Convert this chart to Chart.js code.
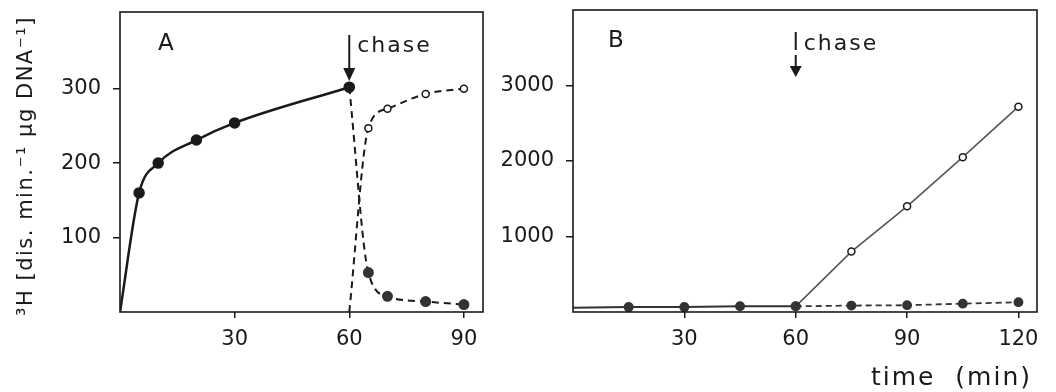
<!DOCTYPE html>
<html>
<head>
<meta charset="utf-8">
<script src="https://cdn.jsdelivr.net/npm/chart.js@4.4.1/dist/chart.umd.min.js"></script>
<style>
  body { margin: 0; background: #fff; width: 1056px; height: 392px; position: relative; overflow: hidden; }
  #chartA { position: absolute; left: 0; top: 0; }
  #chartB { position: absolute; left: 490px; top: 0; }
</style>
</head>
<body>
<canvas id="chartA" width="490" height="392"></canvas>
<canvas id="chartB" width="566" height="392"></canvas>
<script>
// Panel A - pulse then chase (time in min)
const pulseA_x = [0, 5, 10, 20, 30, 60];
const pulseA_y = [0, 160, 200, 231, 254, 302];
const chaseA_x = [60, 65, 70, 80, 90];
const chaseA_filled = [302, 53, 21, 14, 10];
const chaseA_open = [0, 247, 273, 293, 300];
const ticksA_x = [30, 60, 90];
const ticksA_y = [100, 200, 300];

// Panel B
const pulseB_x = [0, 15, 30, 45, 60];
const pulseB_y = [55, 65, 65, 75, 75];
const chaseB_x = [60, 75, 90, 105, 120];
const chaseB_filled = [75, 85, 90, 110, 130];
const chaseB_open = [75, 800, 1400, 2050, 2720];
const ticksB_x = [30, 60, 90, 120];
const ticksB_y = [1000, 2000, 3000];

const chaseTime = 60;
const INK = '#1a1a1a';
const FONT = '"DejaVu Sans", sans-serif';

const pts = (xs, ys) => xs.map((x, i) => ({ x: x, y: ys[i] }));

const decor = (o) => ({
    id: 'decor',
    afterDraw(chart) {
        const { ctx, chartArea: a, scales } = chart;
        ctx.save();
        ctx.strokeStyle = INK;
        ctx.lineWidth = 1.6;
        ctx.strokeRect(a.left, a.top, a.right - a.left, a.bottom - a.top);

        ctx.fillStyle = INK;
        ctx.textBaseline = 'middle';
        ctx.font = '23px ' + FONT;
        ctx.fillText(o.letter, o.letterX, o.letterY);

        // chase marker
        const cx = scales.x.getPixelForValue(chaseTime);
        ctx.lineWidth = 2;
        ctx.beginPath();
        ctx.moveTo(cx, o.barTop); ctx.lineTo(cx, o.barBottom);
        if (o.shaftTop) { ctx.moveTo(cx, o.shaftTop); ctx.lineTo(cx, o.headTop); }
        ctx.stroke();
        ctx.beginPath();
        ctx.moveTo(cx - 6, o.headTop);
        ctx.lineTo(cx + 6, o.headTop);
        ctx.lineTo(cx, o.headTip);
        ctx.closePath();
        ctx.fill();

        ctx.font = '22px ' + FONT;
        ctx.letterSpacing = '2px';
        ctx.textAlign = 'left';
        ctx.fillText('chase', cx + 8, o.chaseY);

        if (o.yTitle) {
            ctx.save();
            ctx.translate(27, 166);
            ctx.rotate(-Math.PI / 2);
            ctx.textAlign = 'center';
            ctx.font = '21px ' + FONT;
            ctx.letterSpacing = '1.5px';
            ctx.fillText(o.yTitle, 0, 0);
            ctx.restore();
        }
        if (o.xTitle) {
            ctx.font = '25px ' + FONT;
            ctx.letterSpacing = '2px';
            ctx.textAlign = 'right';
            ctx.fillText(o.xTitle, chart.width - 24, 378);
        }
        ctx.restore();
    }
});

const scaleX = (max, ticks, h) => ({
    type: 'linear', min: 0, max: max,
    afterBuildTicks: (s) => { s.ticks = ticks.map(v => ({ value: v })); },
    afterFit: (s) => { s.height = h; s.paddingLeft = 0; s.paddingRight = 0; },
    grid: { drawOnChartArea: false, drawTicks: true, tickLength: 6, color: INK, lineWidth: 1.5 },
    border: { display: false },
    ticks: { color: INK, font: { family: FONT, size: 21 }, padding: 9, maxRotation: 0, callback: v => String(v) }
});

const scaleY = (max, ticks, w) => ({
    type: 'linear', min: 0, max: max,
    afterBuildTicks: (s) => { s.ticks = ticks.map(v => ({ value: v })); },
    afterFit: (s) => { s.width = w; s.paddingTop = 0; s.paddingBottom = 0; },
    grid: { drawOnChartArea: false, drawTicks: true, tickLength: 7, color: INK, lineWidth: 1.5 },
    border: { display: false },
    ticks: { color: INK, font: { family: FONT, size: 21 }, padding: 12, callback: v => String(v) }
});

const baseOptions = {
    responsive: false,
    devicePixelRatio: 1,
    animation: false,
    plugins: { legend: { display: false }, tooltip: { enabled: false } }
};

// Panel A
new Chart(document.getElementById('chartA').getContext('2d'), {
    type: 'line',
    data: {
        datasets: [
            {
                data: pts(pulseA_x, pulseA_y),
                borderColor: INK, borderWidth: 2.5,
                cubicInterpolationMode: 'monotone',
                pointRadius: pulseA_x.map(x => x === 0 ? 0 : 4.5),
                pointBackgroundColor: INK, pointBorderColor: INK
            },
            {
                data: pts(chaseA_x, chaseA_filled),
                borderColor: INK, borderWidth: 2, borderDash: [7, 5],
                cubicInterpolationMode: 'monotone',
                pointRadius: 4.5,
                pointBackgroundColor: '#333', pointBorderColor: '#333'
            },
            {
                data: pts(chaseA_x, chaseA_open),
                borderColor: INK, borderWidth: 2, borderDash: [7, 5],
                cubicInterpolationMode: 'monotone',
                pointRadius: chaseA_open.map(v => v === 0 ? 0 : 3.5),
                pointBackgroundColor: '#fff', pointBorderColor: INK, pointBorderWidth: 1.5
            }
        ]
    },
    options: {
        ...baseOptions,
        layout: { padding: { top: 12, right: 7, left: 0, bottom: 0 } },
        scales: { x: scaleX(95, ticksA_x, 80), y: scaleY(403, ticksA_y, 120) }
    },
    plugins: [decor({
        letter: 'A', letterX: 158, letterY: 44,
        barTop: 35, barBottom: 70, headTop: 68, headTip: 81, chaseY: 46,
        yTitle: '³H [dis. min.⁻¹ µg DNA⁻¹]'
    })]
});

// Panel B
new Chart(document.getElementById('chartB').getContext('2d'), {
    type: 'line',
    data: {
        datasets: [
            {
                data: pts(pulseB_x, pulseB_y),
                borderColor: '#333', borderWidth: 2,
                pointRadius: pulseB_x.map(x => x === 0 ? 0 : 4),
                pointBackgroundColor: '#333', pointBorderColor: '#333'
            },
            {
                data: pts(chaseB_x, chaseB_filled),
                borderColor: '#333', borderWidth: 1.8, borderDash: [6, 4],
                pointRadius: 4,
                pointBackgroundColor: '#333', pointBorderColor: '#333'
            },
            {
                data: pts(chaseB_x, chaseB_open),
                borderColor: '#555', borderWidth: 1.6,
                pointRadius: chaseB_x.map(x => x === chaseTime ? 0 : 3.5),
                pointBackgroundColor: '#fff', pointBorderColor: INK, pointBorderWidth: 1.5
            }
        ]
    },
    options: {
        ...baseOptions,
        layout: { padding: { top: 10, right: 19, left: 0, bottom: 0 } },
        scales: { x: scaleX(125, ticksB_x, 80), y: scaleY(4000, ticksB_y, 83) }
    },
    plugins: [decor({
        letter: 'B', letterX: 118, letterY: 41,
        barTop: 32, barBottom: 50, shaftTop: 55, headTop: 66, headTip: 77, chaseY: 44,
        xTitle: 'time  (min)'
    })]
});
</script>
</body>
</html>
